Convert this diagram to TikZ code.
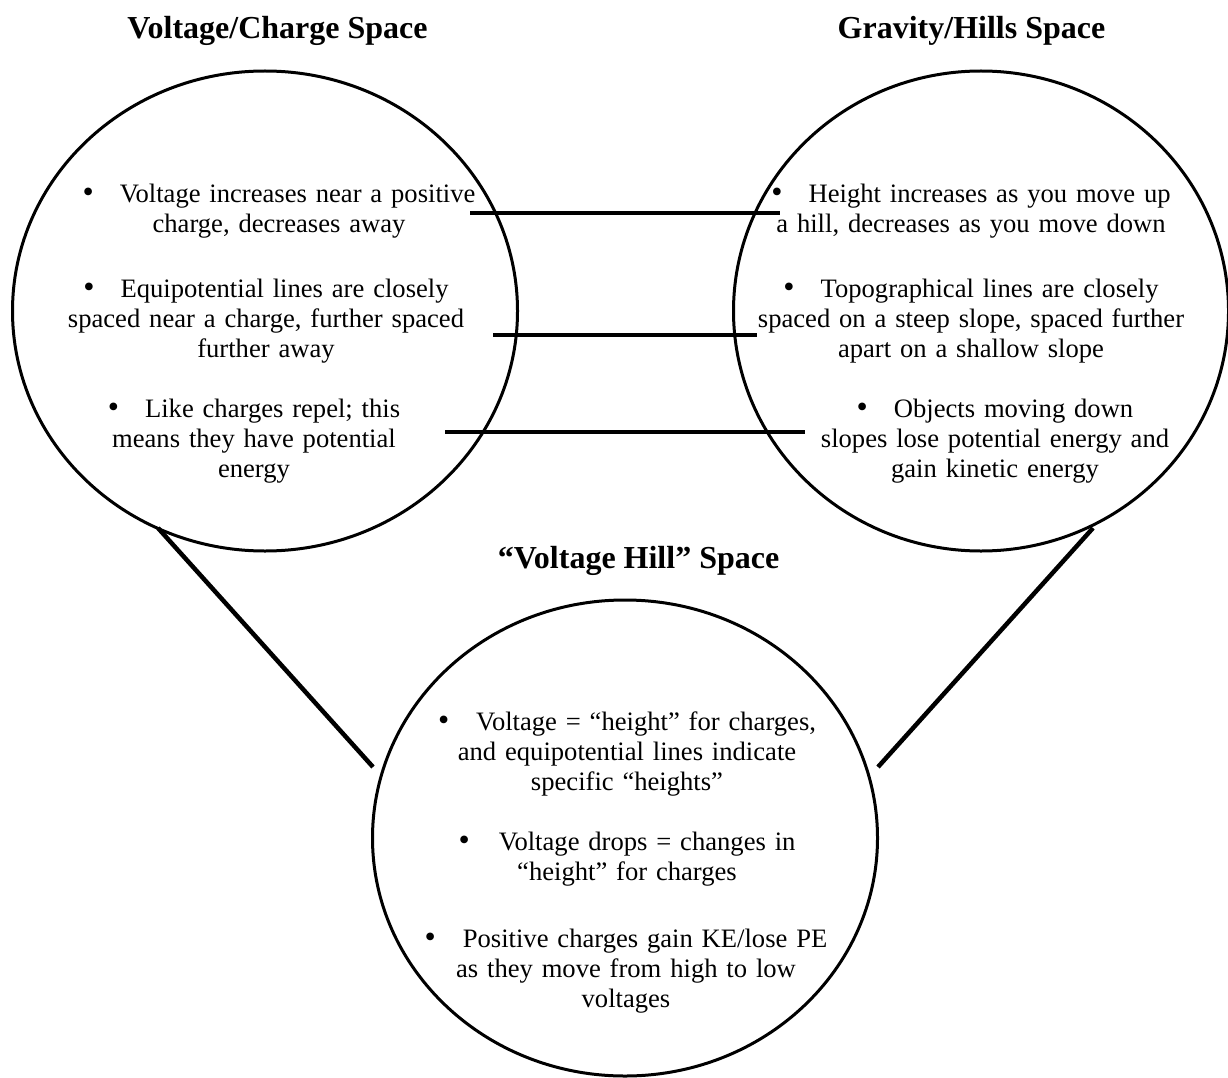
\documentclass[tikz,border=0pt]{standalone}
\usepackage{fontspec}
\setmainfont{Liberation Serif}
\usetikzlibrary{shapes.geometric}
\newcommand{\bulletmark}[1]{{\fontsize{32}{30.2}\selectfont •}\hspace{#1}}
\begin{document}
\begin{tikzpicture}[x=1pt,y=-1pt,
  space/.style={draw=black, line width=3pt, ellipse, inner sep=0pt},
  title/.style={font=\fontsize{32}{38}\selectfont\bfseries, anchor=base, inner sep=0pt},
  item/.style={font=\fontsize{26.6}{30.2}\selectfont, anchor=base, inner sep=0pt, text width=480pt, align=center},
  link/.style={line width=4.5pt}]
\useasboundingbox (0,0) rectangle (1228,1078);
% spaces
\node[space, minimum width=505pt, minimum height=480pt] (L) at (265,311) {};
\node[space, minimum width=495pt, minimum height=480pt] (R) at (981,311) {};
\node[space, minimum width=505pt, minimum height=476pt] (B) at (625,838) {};
% titles
\node[title] (tL) at (277.5,39) {Voltage/Charge Space};
\node[title] (tR) at (971.5,39) {Gravity/Hills Space};
\node[title] (tB) at (638.5,568) {“Voltage Hill” Space};
% left items
\node[item] (L1) at (279,202) {\bulletmark{26pt}Voltage increases near a positive\\charge, decreases away};
\node[item] (L2) at (266,297) {\bulletmark{26pt}Equipotential lines are closely\\spaced near a charge, further spaced\\further away};
\node[item] (L3) at (254,417) {\bulletmark{26pt}Like charges repel; this\\means they have potential\\energy};
% right items
\node[item] (R1) at (971,202) {\bulletmark{26pt}Height increases as you move up\\a hill, decreases as you move down};
\node[item] (R2) at (971,297) {\bulletmark{26pt}Topographical lines are closely\\spaced on a steep slope, spaced further\\apart on a shallow slope};
\node[item] (R3) at (995,417) {\bulletmark{26pt}Objects moving down\\slopes lose potential energy and\\gain kinetic energy};
% bottom items
\node[item] (B1) at (627,730) {\bulletmark{27pt}Voltage = “height” for charges,\\and equipotential lines indicate\\specific “heights”};
\node[item] (B2) at (627,850) {\bulletmark{29pt}Voltage drops = changes in\\“height” for charges};
\node[item] (B3) at (626,947) {\bulletmark{27pt}Positive charges gain KE/lose PE\\as they move from high to low\\voltages};
% connector end points
\coordinate (h1a) at (470,213); \coordinate (h1b) at (780,213);
\coordinate (h2a) at (493,335); \coordinate (h2b) at (757,335);
\coordinate (h3a) at (445,432); \coordinate (h3b) at (805,432);
\coordinate (dLa) at (158,528); \coordinate (dLb) at (373,767);
\coordinate (dRa) at (1093,528); \coordinate (dRb) at (878,767);
\draw[link] (h1a) -- (h1b);
\draw[link] (h2a) -- (h2b);
\draw[link] (h3a) -- (h3b);
\draw[link] (dLa) -- (dLb);
\draw[link] (dRa) -- (dRb);
\end{tikzpicture}
\end{document}
